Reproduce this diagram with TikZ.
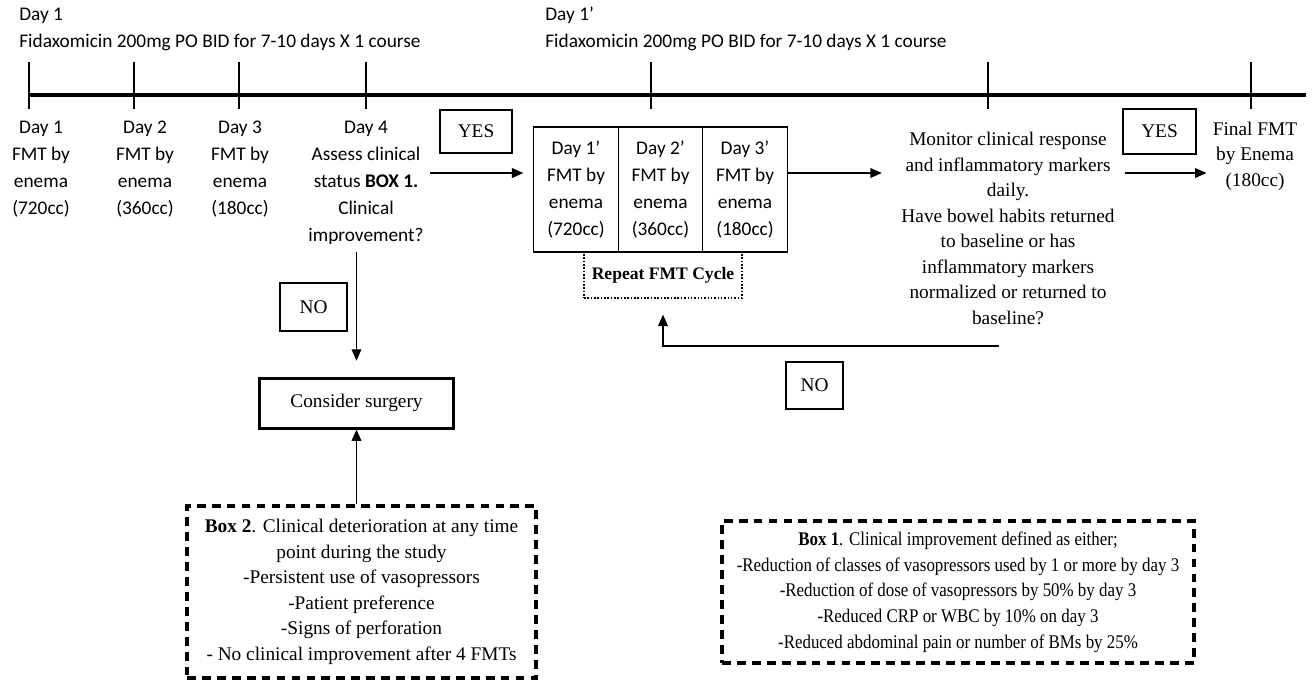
\documentclass[tikz,border=0pt]{standalone}
\usepackage{fontspec}
\setmainfont{Liberation Serif}
\newfontfamily\calib{Carlito}
\newfontfamily\narrowser[FakeStretch=0.875]{Liberation Serif}
\usetikzlibrary{arrows.meta}

\begin{document}
\begin{tikzpicture}[x=0.02cm,y=-0.02cm,>={Triangle[length=6.5pt,width=5.5pt]},
  daytxt/.style={align=center,inner sep=0pt,font=\calib\fontsize{11}{15.4}\selectfont},
  sertxt/.style={align=center,inner sep=0pt,font=\fontsize{11}{14.5}\selectfont},
  plainbox/.style={draw,line width=1.1pt,inner sep=0pt,font=\fontsize{11}{14.5}\selectfont},
  fmtbox/.style={draw,line width=0.8pt,align=center,inner sep=0pt,minimum width=1.69cm,minimum height=2.5cm,font=\calib\fontsize{11}{15.4}\selectfont},
  dashbox/.style={draw,line width=1.9pt,dash pattern=on 5pt off 3.5pt,align=center,inner sep=0pt,font=\fontsize{11}{14.5}\selectfont},
  link/.style={->,line width=0.75pt}]
  \useasboundingbox (0,0) rectangle (1315,681);

  % timeline
  \draw[line width=2.3pt] (29,95) -- (1306,95);
  \draw[line width=1.5pt] (29,62) -- (29,109);
  \draw[line width=1.5pt] (134,62) -- (134,109);
  \draw[line width=1.5pt] (239,62) -- (239,109);
  \draw[line width=1.5pt] (366,62) -- (366,109);
  \draw[line width=1.5pt] (651,62) -- (651,109);
  \draw[line width=1.5pt] (988,62) -- (988,109);
  \draw[line width=1.5pt] (1251,62) -- (1251,109);

  \node[daytxt,anchor=west,align=left] (course1) at (19,29) {Day 1\\Fidaxomicin 200mg PO BID for 7-10 days X 1 course};
  \node[daytxt,anchor=west,align=left] (course2) at (545,29) {Day 1’\\Fidaxomicin 200mg PO BID for 7-10 days X 1 course};

  \node[daytxt] (day1) at (41,169) {Day 1\\FMT by\\enema\\(720cc)};
  \node[daytxt] (day2) at (145,169) {Day 2\\FMT by\\enema\\(360cc)};
  \node[daytxt] (day3) at (240,169) {Day 3\\FMT by\\enema\\(180cc)};
  \node[daytxt] (day4) at (366,182.5) {Day 4\\Assess clinical\\status \textbf{BOX 1.}\\Clinical\\improvement?};

  \node[plainbox,minimum width=1.44cm,minimum height=0.86cm] (yes1) at (476,131.5) {YES};
  \node[draw,densely dotted,line width=0.9pt,minimum width=3.16cm,minimum height=0.92cm,font=\bfseries\fontsize{10}{12}\selectfont] (repeat) at (663,275) {Repeat FMT Cycle};
  \node[fmtbox] (fmt1) at (576,189.5) {Day 1’\\FMT by\\enema\\(720cc)};
  \node[fmtbox] (fmt2) at (660.5,189.5) {Day 2’\\FMT by\\enema\\(360cc)};
  \node[fmtbox] (fmt3) at (745,189.5) {Day 3’\\FMT by\\enema\\(180cc)};

  \node[sertxt] (monitor) at (1008,228.5) {Monitor clinical response\\and inflammatory markers\\daily.\\Have bowel habits returned\\to baseline or has\\inflammatory markers\\normalized or returned to\\baseline?};
  \node[plainbox,minimum width=1.46cm,minimum height=0.9cm] (yes2) at (1159.5,131.5) {YES};
  \node[sertxt] (final) at (1255,156) {Final FMT\\by Enema\\(180cc)};

  \node[plainbox,minimum width=1.34cm,minimum height=0.96cm] (no1) at (313.5,307) {NO};
  \node[plainbox,line width=1.7pt,minimum width=3.9cm,minimum height=1cm] (surgery) at (356.5,403) {Consider surgery};
  \node[plainbox,minimum width=1.14cm,minimum height=0.94cm] (no2) at (814.5,385.5) {NO};

  \node[dashbox,minimum width=6.98cm,minimum height=3.44cm] (box2) at (361.5,592) {\textbf{Box 2}. Clinical deterioration at any time\\point during the study\\-Persistent use of vasopressors\\-Patient preference\\-Signs of perforation\\- No clinical improvement after 4 FMTs};
  \node[dashbox,minimum width=9.44cm,minimum height=2.84cm,font=\narrowser\fontsize{11}{14.6}\selectfont] (box1) at (958,592) {\textbf{Box 1}. Clinical improvement defined as either;\\-Reduction of classes of vasopressors used by 1 or more by day 3\\-Reduction of dose of vasopressors by 50\% by day 3\\-Reduced CRP or WBC by 10\% on day 3\\-Reduced abdominal pain or number of BMs by 25\%};

  % connectors
  \coordinate (yesstart) at (430,173);
  \coordinate (noback) at (999,346);
  \draw[link,shorten >=5.5pt] (yesstart) -- (yesstart -| fmt1.west);
  \draw[link,shorten >=11pt] (fmt3.east |- yesstart) -- (yesstart -| monitor.west);
  \draw[link,shorten <=5.5pt,shorten >=3.4pt] (monitor.east |- yesstart) -- (yesstart -| final.west);
  \draw[link,shorten <=4pt,shorten >=9pt] (day4.south -| surgery.north) -- (surgery.north);
  \draw[link] (box2.north -| surgery.south) -- (surgery.south);
  \draw[link,shorten >=9pt] (noback) -| (repeat.south);
\end{tikzpicture}
\end{document}
